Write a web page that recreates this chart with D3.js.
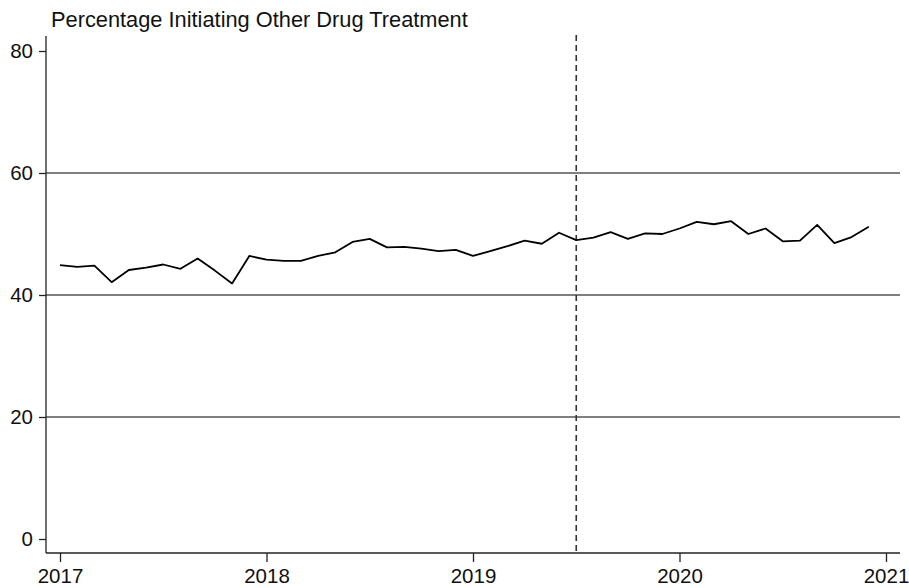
<!DOCTYPE html>
<html><head><meta charset="utf-8">
<script src="https://cdn.jsdelivr.net/npm/d3@7/dist/d3.min.js"></script>
<style>body{margin:0;background:#fff}svg{display:block;font-family:"Liberation Sans",Arial,Helvetica,sans-serif}</style>
</head><body><svg id="c" width="909" height="588"></svg>
<script>
const title = "Percentage Initiating Other Drug Treatment";
const startYear = 2017;
const values = [44.9,44.6,44.8,42.1,44.1,44.5,45.0,44.3,46.0,44.0,41.9,46.4,
  45.8,45.6,45.6,46.4,47.0,48.7,49.2,47.8,47.9,47.6,47.2,47.4,
  46.4,47.2,48.0,48.9,48.4,50.2,49.0,49.4,50.3,49.2,50.1,50.0,
  50.9,52.0,51.6,52.1,50.0,50.9,48.8,48.9,51.5,48.5,49.5,51.2];
const xTicks = [2017,2018,2019,2020,2021];
const yTicks = [0,20,40,60,80];
const gridTicks = [20,40,60];
const cutoff = 2019.5;

const svg = d3.select("#c");
const x = d3.scaleLinear().domain([2017,2021]).range([60,886]);
const y = d3.scaleLinear().domain([0,80]).range([539,51]);
const pL = 46, pR = 900, pB = 553, pT = 36;
const fs = 20.5;

svg.append("g").selectAll("line").data(gridTicks).join("line")
  .attr("x1",pL).attr("x2",pR).attr("y1",d=>y(d)).attr("y2",d=>y(d))
  .attr("stroke","#555").attr("stroke-width",1.3);

svg.append("line").attr("x1",x(cutoff)).attr("x2",x(cutoff)).attr("y1",pT-1).attr("y2",pB)
  .attr("stroke","#333").attr("stroke-width",1.6).attr("stroke-dasharray","6,4");

const yAxis = svg.append("g").attr("transform",`translate(${pL},0)`)
  .call(d3.axisLeft(y).tickValues(yTicks).tickSize(7).tickPadding(6).tickFormat(d3.format("d")));
yAxis.select(".domain").attr("d",`M0,${pT}V${pB}`).attr("stroke","#222").attr("stroke-width",1.3);
yAxis.selectAll(".tick line").attr("stroke","#222").attr("stroke-width",1.3);
yAxis.selectAll("text").attr("font-size",fs).attr("fill","#111").attr("font-family","Liberation Sans, Arial, sans-serif");

const xAxis = svg.append("g").attr("transform",`translate(0,${pB})`)
  .call(d3.axisBottom(x).tickValues(xTicks).tickSize(9).tickPadding(6).tickFormat(d3.format("d")));
xAxis.select(".domain").attr("d",`M${pL},0H${pR}`).attr("stroke","#222").attr("stroke-width",1.3);
xAxis.selectAll(".tick line").attr("stroke","#222").attr("stroke-width",1.3);
xAxis.selectAll("text").attr("font-size",fs).attr("fill","#111").attr("font-family","Liberation Sans, Arial, sans-serif");

const line = d3.line().x((d,i)=>x(startYear + i/12)).y(d=>y(d));
svg.append("path").datum(values).attr("d",line).attr("fill","none")
  .attr("stroke","#000").attr("stroke-width",1.8).attr("stroke-linejoin","round");

svg.append("text").attr("x",51).attr("y",27).attr("font-size",21.8).attr("fill","#111").text(title);
</script></body></html>
